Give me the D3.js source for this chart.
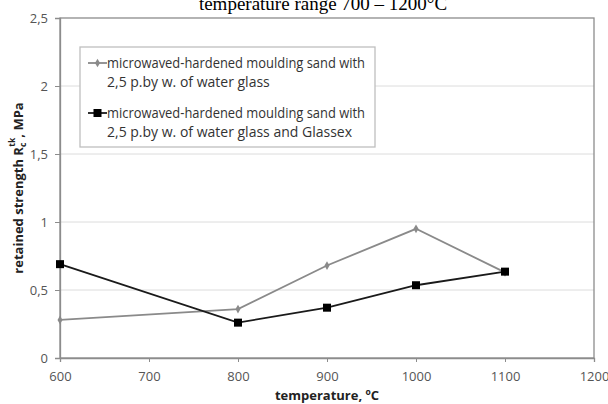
<!DOCTYPE html>
<html><head><meta charset="utf-8">
<script src="https://cdn.jsdelivr.net/npm/d3@7"></script>
<style>body{margin:0;background:#fff;}svg{display:block;}</style>
</head><body>
<svg id="c" width="608" height="404"></svg>
<script>
const temps = [600, 800, 900, 1000, 1100];
const seriesWaterGlass = [0.28, 0.36, 0.68, 0.95, 0.63];
const seriesGlassex = [0.69, 0.26, 0.37, 0.535, 0.635];
const xTicks = [600, 700, 800, 900, 1000, 1100, 1200];
const yTicks = [0, 0.5, 1, 1.5, 2, 2.5];
const legendLabels = [
  ["microwaved-hardened moulding sand with", "2,5 p.by w. of water glass"],
  ["microwaved-hardened moulding sand with", "2,5 p.by w. of water glass and Glassex"]
];

const svg = d3.select("#c");
const L = 60, R = 594, T = 18, B = 358;
const x = d3.scaleLinear().domain([600, 1200]).range([L, R]);
const y = d3.scaleLinear().domain([0, 2.5]).range([B, T]);
const font = "Open Sans, Noto Sans, sans-serif";
const fmt = d => String(d).replace(".", ",");

// title (cut off at top, as in the reference)
svg.append("text").attr("x", 323).attr("y", 10).attr("text-anchor", "middle")
  .attr("font-family", "Liberation Serif, serif").attr("font-size", 19).attr("fill", "#000")
  .text("temperature range 700 – 1200°C");

// gridlines
svg.append("g").selectAll("line").data(yTicks.filter(d => d > 0 && d < 2.5)).join("line")
  .attr("x1", L).attr("x2", R).attr("y1", d => y(d)).attr("y2", d => y(d))
  .attr("stroke", "#dcdcdc").attr("stroke-width", 1);

// plot border
svg.append("rect").attr("x", L).attr("y", T).attr("width", R - L).attr("height", B - T)
  .attr("fill", "none").attr("stroke", "#8c8c8c").attr("stroke-width", 1.3);

// axes
const xAxis = d3.axisBottom(x).tickValues(xTicks).tickSize(4).tickPadding(10).tickFormat(d => d);
const gx = svg.append("g").attr("transform", `translate(0,${B})`).call(xAxis);
gx.select(".domain").attr("stroke", "#8c8c8c").attr("stroke-width", 1.3);
gx.selectAll(".tick line").attr("stroke", "#8c8c8c");
gx.selectAll("text").attr("font-family", font).attr("font-size", 13).attr("fill", "#555");

const yAxis = d3.axisLeft(y).tickValues(yTicks).tickSize(5).tickPadding(7).tickFormat(fmt);
const gy = svg.append("g").attr("transform", `translate(${L},0)`).call(yAxis);
gy.select(".domain").attr("stroke", "#8c8c8c").attr("stroke-width", 1.3);
gy.selectAll(".tick line").attr("stroke", "#8c8c8c");
gy.selectAll("text").attr("font-family", font).attr("font-size", 13).attr("fill", "#555");

// axis titles
svg.append("text").attr("x", 327).attr("y", 400).attr("text-anchor", "middle")
  .attr("font-family", font).attr("font-size", 13).attr("font-weight", "bold").attr("fill", "#222")
  .html('temperature, <tspan dy="-5" font-size="8.5">o</tspan><tspan dy="5">C</tspan>');
svg.append("text").attr("transform", "translate(23,188) rotate(-90)").attr("text-anchor", "middle")
  .attr("font-family", font).attr("font-size", 13).attr("font-weight", "bold").attr("fill", "#222")
  .html('retained strength R<tspan dy="3" font-size="8.5">c</tspan><tspan dx="-4" dy="-11" font-size="8.5">tk</tspan><tspan dy="8">, MPa</tspan>');

// lines
const line = d3.line().x((d, i) => x(temps[i])).y(d => y(d));
svg.append("path").datum(seriesWaterGlass).attr("d", line).attr("fill", "none")
  .attr("stroke", "#8a8a8a").attr("stroke-width", 1.8);
svg.append("path").datum(seriesGlassex).attr("d", line).attr("fill", "none")
  .attr("stroke", "#1a1a1a").attr("stroke-width", 1.8);

svg.append("g").selectAll("path").data(seriesWaterGlass).join("path")
  .attr("d", d3.symbol(d3.symbolDiamond, 22)())
  .attr("transform", (d, i) => `translate(${x(temps[i])},${y(d)})`)
  .attr("fill", "#8a8a8a");
svg.append("g").selectAll("rect").data(seriesGlassex).join("rect")
  .attr("x", (d, i) => x(temps[i]) - 4).attr("y", d => y(d) - 4)
  .attr("width", 8).attr("height", 8).attr("fill", "#000");

// legend
const lg = svg.append("g");
lg.append("rect").attr("x", 80).attr("y", 47).attr("width", 295).attr("height", 100)
  .attr("fill", "#fff").attr("stroke", "#bfbfbf").attr("stroke-width", 1.3);
const rows = [{y: 63, color: "#8a8a8a", sq: false}, {y: 113, color: "#1a1a1a", sq: true}];
rows.forEach((r, i) => {
  lg.append("line").attr("x1", 88).attr("x2", 107).attr("y1", r.y).attr("y2", r.y)
    .attr("stroke", r.color).attr("stroke-width", 1.8);
  if (r.sq) lg.append("rect").attr("x", 93.5).attr("y", r.y - 4).attr("width", 8).attr("height", 8).attr("fill", "#000");
  else lg.append("path").attr("d", d3.symbol(d3.symbolDiamond, 22)()).attr("transform", `translate(97.5,${r.y})`).attr("fill", r.color);
  legendLabels[i].forEach((t, j) => {
    lg.append("text").attr("x", 107).attr("y", r.y + 5 + j * 19)
      .attr("font-family", font).attr("font-size", 14).attr("fill", "#333")
      .attr("textLength", j === 0 ? 258 : null).attr("lengthAdjust", "spacingAndGlyphs")
      .text(t);
  });
});
</script>
</body></html>
